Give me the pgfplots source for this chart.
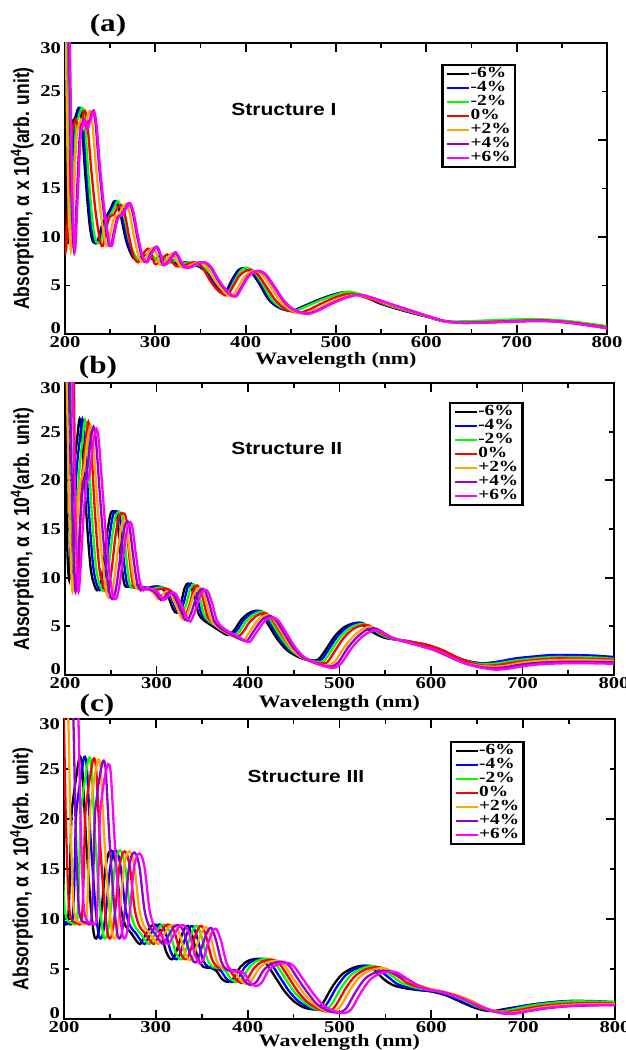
\documentclass[border=0pt]{standalone}
\usepackage{pgfplots}
\pgfplotsset{compat=1.18}
\usepackage{graphicx}
\usepackage{fontspec}
\setmainfont{Liberation Serif}[FakeStretch=1.25]
\setsansfont{Liberation Sans}[FakeStretch=1.2]
\newfontfamily\ylfont{Liberation Sans}
\definecolor{cblue}{RGB}{0,0,255}
\definecolor{cgreen}{RGB}{0,255,0}
\definecolor{cred}{RGB}{255,0,0}
\definecolor{corange}{RGB}{255,165,0}
\definecolor{cpurple}{RGB}{148,0,211}
\definecolor{cmag}{RGB}{255,0,255}
\pgfplotsset{
  myax/.style={
    scale only axis, xmin=200, xmax=800, ymin=0, ymax=30,
    xtick={200,300,...,800}, minor xtick={250,350,...,750},
    ytick={0,10,20,30}, yticklabels={\raisebox{6pt}[\height][\depth]{0},10,20,\raisebox{-5pt}[\height][\depth]{30}},
    extra y ticks={5,15,25},
    extra y tick style={major tick length=5pt},
    tick pos=both, tick align=inside,
    major tick length=9pt, minor tick length=5pt,
    every tick/.style={black, line width=1.8pt},
    axis line style={line width=2.5pt},
    tick label style={font=\fontsize{16.5}{16.5}\selectfont\bfseries},
    /pgf/number format/assume math mode=true,
    xticklabel style={yshift=1pt},
    yticklabel style={xshift=-0.5pt},
    xlabel={Wavelength (nm)},
    xlabel style={font=\fontsize{17.5}{18}\selectfont\bfseries, anchor=center},
    ylabel={\scalebox{1}[1.25]{Absorption, α x 10\textsuperscript{4}(arb. unit)}},
    ylabel style={font=\ylfont\bfseries\fontsize{17.5}{18}\selectfont, anchor=center},
    legend cell align=left,
    legend style={anchor=north west, draw=black, line width=2.4pt, fill=white,
      font=\fontsize{15.5}{14}\selectfont\bfseries, inner xsep=4pt, inner ysep=2pt,
      row sep=0pt, nodes={inner sep=0pt, text height=10.8pt, text depth=3.2pt},
      /tikz/every even column/.append style={column sep=9pt}},
    legend image code/.code={\draw[#1] (0pt,0pt) -- (22pt,0pt);},
    every axis plot/.append style={line width=2.3pt, smooth, tension=0.5, no markers},
  }
}
\begin{document}
\begin{tikzpicture}
\useasboundingbox (0,0) rectangle (625pt,1050pt);
% ---------------- Panel (a) ----------------
\begin{axis}[myax, at={(65pt,716pt)}, anchor=south west, width=542pt, height=291pt,
  xlabel style={at={(axis description cs:0.5,-0.089)}},
  ylabel style={at={(axis description cs:-0.079,0.5)}},
  legend style={at={(0.694,0.928)}}]
\addplot[black] coordinates {(198,40) (200,32) (202,14) (204,9.8) (207,18) (209,21.8) (211,22.2) (215,23.3) (218,22.5) (222,17) (227,11.5) (231,9.5) (236,9.6) (241,11.2) (247,12.3) (251,13.0) (255,13.7) (261,12.5) (268,9.5) (276,7.8) (285,7.9) (292,8.2) (298,7.6) (305,8.0) (312,7.3) (318,7.6) (325,7.2) (333,7.4) (345,7.1) (355,6.5) (365,5.2) (373,4.5) (378,4.4) (385,5.6) (392,6.6) (399,6.8) (406,6.4) (415,5.2) (425,3.6) (435,2.8) (445,2.45) (452,2.4) (465,2.9) (480,3.5) (495,4.0) (508,4.3) (518,4.2) (535,3.7) (550,3.1) (575,2.4) (600,1.8) (620,1.3) (640,1.2) (670,1.3) (700,1.4) (730,1.4) (760,1.2) (800,0.75)};
\addlegendentry{-6\%}
\addplot[cblue] coordinates {(199.5,40) (201.5,32) (203.5,14) (205.5,9.8) (208.5,18) (210.5,21.8) (212.5,22.2) (216.5,23.3) (219.5,22.5) (223.5,17) (228.5,11.5) (232.5,9.5) (237.5,9.6) (242.5,11.2) (248.5,12.3) (252.5,13.0) (256.5,13.7) (262.5,12.5) (269.5,9.5) (277.5,7.8) (286.5,7.9) (293.5,8.2) (299.5,7.6) (306.5,8.0) (313.5,7.3) (319.5,7.6) (326.5,7.2) (334.5,7.4) (346.5,7.1) (356.5,6.5) (366.5,5.2) (374.5,4.5) (379.5,4.4) (386.5,5.6) (393.5,6.6) (400.5,6.8) (407.5,6.4) (416.5,5.2) (426.5,3.6) (436.5,2.8) (446.5,2.45) (453.5,2.4) (466.5,2.9) (481.5,3.5) (496.5,4.0) (509.5,4.3) (519.5,4.2) (536.5,3.7) (551,3.1) (575.5,2.4) (600,1.8) (620,1.3) (640,1.25) (670,1.35) (700,1.45) (730,1.45) (760,1.25) (800,0.75)};
\addlegendentry{-4\%}
\addplot[cgreen] coordinates {(201.5,40) (203.5,32) (205.5,14) (207.5,9.8) (210.5,18) (212.5,21.8) (214.5,22.2) (218.5,23.3) (221.5,22.5) (225.5,17) (230.5,11.5) (234.5,9.5) (239.5,9.6) (244.5,11.2) (250.5,12.3) (254.5,13.0) (258.5,13.7) (264.5,12.5) (271.5,9.5) (279.5,7.8) (288.5,7.9) (295.5,8.2) (301.5,7.6) (308.5,8.0) (315.5,7.3) (321.5,7.6) (328.5,7.2) (336.5,7.4) (348.5,7.1) (358.5,6.5) (368.5,5.2) (376.5,4.5) (381.5,4.4) (388.5,5.6) (395.5,6.6) (402.5,6.8) (409.5,6.4) (418.5,5.2) (428.5,3.6) (438.5,2.8) (448.5,2.45) (455.5,2.4) (468.5,2.9) (483.5,3.5) (498.5,4.0) (511.5,4.35) (521.5,4.25) (538,3.75) (552,3.15) (576,2.45) (600,1.85) (620,1.35) (640,1.3) (670,1.4) (700,1.5) (730,1.5) (760,1.3) (800,0.8)};
\addlegendentry{-2\%}
\addplot[cred] coordinates {(191.5,40) (193.5,32) (195.5,29) (198,15) (201,8.6) (204,14) (207,20) (209,21.3) (212,22.1) (215,21.2) (218,22) (222,23.0) (225,21.5) (229,17) (234,12.5) (239,9.5) (242,9.1) (245,10.5) (249,12.0) (254,12.3) (258,13.0) (262,13.3) (266,12.5) (271,10) (276,8.0) (281,7.4) (286,8.2) (292,8.8) (296,8.1) (300,7.2) (308,7.7) (313,8.2) (318,7.5) (323,7.0) (330,7.0) (338,7.3) (345,7.4) (352,6.9) (360,5.6) (368,4.6) (375,4.1) (380,4.0) (386,4.9) (393,6.0) (400,6.5) (406,6.6) (413,6.2) (422,5.0) (432,3.6) (442,2.7) (452,2.3) (460,2.2) (470,2.5) (485,3.2) (500,3.8) (512,4.1) (520,4.1) (537,3.65) (555,3.1) (577,2.45) (600,1.85) (620,1.3) (640,1.15) (670,1.25) (700,1.35) (730,1.4) (760,1.2) (800,0.7)};
\addlegendentry{0\%}
\addplot[corange] coordinates {(197,40) (199,32) (201,29) (203.5,15) (206.5,8.6) (209.5,14) (212.5,20) (214.5,21.3) (217.5,22.1) (220.5,21.2) (223.5,22) (227.5,23.0) (230.5,21.5) (234.5,17) (239.5,12.5) (244.5,9.5) (247.5,9.1) (250.5,10.5) (254.5,12.0) (259.5,12.3) (263.5,13.0) (267.5,13.4) (271.5,12.5) (276.5,10) (281.5,8.0) (286.5,7.4) (291.5,8.3) (297.5,8.9) (301.5,8.2) (305.5,7.1) (313.5,7.8) (318.5,8.3) (323.5,7.6) (328.5,6.9) (335.5,6.9) (343.5,7.3) (350.5,7.4) (357.5,6.9) (365.5,5.6) (373.5,4.6) (380.5,4.0) (385.5,3.9) (391.5,4.8) (398.5,5.9) (405.5,6.4) (411.5,6.5) (418.5,6.1) (427.5,4.9) (437.5,3.5) (447.5,2.6) (457.5,2.2) (465.5,2.1) (475.5,2.4) (490.5,3.1) (505.5,3.7) (517.5,4.0) (526,4.0) (542,3.6) (558,3.05) (579,2.45) (600,1.85) (620,1.3) (640,1.12) (670,1.18) (700,1.28) (730,1.32) (760,1.12) (800,0.6)};
\addlegendentry{+2\%}
\addplot[cpurple] coordinates {(200.5,40) (202.5,32) (204.5,29) (207,15) (210,8.6) (213,14) (216,20) (218,21.3) (221,22.1) (224,21.2) (227,22) (231,23.0) (234,21.5) (238,17) (243,12.5) (248,9.5) (251,9.1) (254,10.5) (258,12.0) (263,12.3) (267,13.0) (271,13.5) (275,12.5) (280,10) (285,8.0) (290,7.4) (295,8.3) (301,9.0) (305,8.2) (309,7.1) (317,7.8) (322,8.4) (327,7.6) (332,6.9) (339,6.9) (347,7.3) (354,7.4) (361,6.9) (369,5.6) (377,4.6) (384,4.0) (389,3.9) (395,4.8) (402,5.9) (409,6.4) (415,6.5) (422,6.1) (431,4.9) (441,3.5) (451,2.6) (461,2.2) (469,2.1) (479,2.4) (494,3.1) (509,3.7) (521,4.0) (529,4.0) (544,3.6) (560,3.1) (580,2.5) (600,1.9) (620,1.35) (640,1.15) (670,1.2) (700,1.3) (730,1.35) (760,1.15) (800,0.6)};
\addlegendentry{+4\%}
\addplot[cmag] coordinates {(201.5,40) (203.5,32) (205.5,29) (208,15) (211,8.6) (214,14) (217,20) (219,21.3) (222,22.1) (225,21.2) (228,22) (232,23.0) (235,21.5) (239,17) (244,12.5) (249,9.5) (252,9.1) (255,10.5) (259,12.0) (264,12.3) (268,13.0) (272,13.5) (276,12.5) (281,10) (286,8.0) (291,7.4) (296,8.3) (302,9.0) (306,8.2) (310,7.1) (318,7.8) (323,8.4) (328,7.6) (333,6.9) (340,6.9) (348,7.3) (355,7.4) (362,6.9) (370,5.6) (378,4.6) (385,4.0) (390,3.9) (396,4.8) (403,5.9) (410,6.4) (416,6.5) (423,6.1) (432,4.9) (442,3.5) (452,2.6) (462,2.2) (470,2.1) (480,2.4) (495,3.1) (510,3.7) (522,4.0) (530,4.0) (545,3.6) (560,3.1) (580,2.5) (600,1.9) (620,1.35) (640,1.15) (670,1.2) (700,1.3) (730,1.35) (760,1.15) (800,0.6)};
\addlegendentry{+6\%}
\node[font=\sffamily\bfseries\fontsize{17.5}{18}\selectfont] at (rel axis cs:0.404,0.773) {Structure I};
\end{axis}
% ---------------- Panel (b) ----------------
\begin{axis}[myax, at={(65pt,375pt)}, anchor=south west, width=549pt, height=292pt,
  xlabel style={at={(axis description cs:0.5,-0.096)}},
  ylabel style={at={(axis description cs:-0.078,0.5)}},
  legend style={at={(0.699,0.935)}}]
\addplot[black] coordinates {(198,40) (200,32) (202,15) (204.5,9.8) (207,15) (209,20) (211,22.4) (213,24) (216,26.3) (219,24) (223,17) (228,11) (233,9.0) (237,8.8) (241,10.5) (246,14.5) (250,16.6) (254,16.8) (257,16.3) (261,12) (265,9.3) (270,9.1) (278,9.2) (286,8.8) (293,9.0) (300,9.1) (307,8.8) (313,8.0) (318,6.8) (322,6.4) (327,7.5) (331,9.0) (335,9.4) (340,8.5) (346,6.3) (352,5.6) (360,5.1) (368,4.6) (375,4.2) (379,4.1) (385,4.6) (392,5.6) (400,6.3) (408,6.6) (414,6.4) (422,5.2) (432,3.7) (442,2.6) (452,2.0) (462,1.6) (470,1.5) (477,1.6) (485,2.6) (495,4.0) (505,4.9) (515,5.3) (522,5.3) (530,4.8) (540,4.2) (550,3.8) (565,3.6) (580,3.35) (595,3.1) (610,2.6) (625,1.9) (640,1.4) (655,1.2) (670,1.3) (690,1.6) (710,1.8) (730,1.95) (750,1.95) (775,1.9) (800,1.75)};
\addlegendentry{-6\%}
\addplot[cblue] coordinates {(201,40) (203,32) (205,15) (207.5,9.8) (210,15) (212,20) (214,22.4) (216,24) (219,26.3) (222,24) (226,17) (231,11) (236,9.0) (240,8.8) (244,10.5) (249,14.5) (253,16.6) (257,16.8) (260,16.3) (264,12) (268,9.3) (273,9.1) (281,9.2) (289,8.8) (296,9.0) (303,9.1) (310,8.8) (316,8.0) (321,6.8) (325,6.4) (330,7.5) (334,9.0) (338,9.4) (343,8.5) (349,6.3) (355,5.6) (363,5.1) (371,4.6) (378,4.2) (382,4.1) (388,4.6) (395,5.6) (403,6.3) (411,6.6) (417,6.4) (425,5.2) (435,3.7) (445,2.6) (455,2.0) (465,1.6) (473,1.45) (480,1.55) (488,2.6) (498,4.0) (508,4.9) (518,5.35) (525,5.35) (533,4.85) (543,4.2) (553,3.8) (567,3.6) (582,3.35) (597,3.05) (612,2.55) (627,1.85) (642,1.4) (657,1.2) (672,1.35) (692,1.7) (712,1.9) (732,2.05) (752,2.05) (777,2.0) (800,1.85)};
\addlegendentry{-4\%}
\addplot[cgreen] coordinates {(204,40) (206,32) (208,15) (210.5,9.8) (213,15) (215,20) (217,22.4) (219,24) (222,26.2) (225,24) (229,17) (234,11) (239,9.0) (243,8.7) (247,10.5) (252,14.5) (256,16.5) (260,16.7) (263,16.2) (267,12) (271,9.2) (276,9.0) (284,9.1) (292,8.8) (299,8.9) (306,9.0) (313,8.7) (319,7.9) (324,6.7) (328,6.3) (333,7.4) (337,8.9) (341,9.3) (346,8.4) (352,6.2) (358,5.5) (366,5.0) (374,4.5) (381,4.1) (385,4.0) (391,4.5) (398,5.5) (406,6.2) (414,6.5) (420,6.3) (428,5.1) (438,3.6) (448,2.5) (458,1.9) (468,1.5) (476,1.35) (483,1.45) (491,2.5) (501,3.9) (511,4.8) (521,5.2) (528,5.2) (536,4.75) (546,4.15) (556,3.75) (570,3.55) (584,3.3) (598,3.0) (613,2.5) (628,1.8) (643,1.3) (658,1.1) (673,1.2) (693,1.5) (713,1.7) (733,1.85) (753,1.85) (778,1.8) (800,1.65)};
\addlegendentry{-2\%}
\addplot[cred] coordinates {(207.5,40) (209.5,32) (211.5,15) (214,9.8) (216.5,15) (218.5,20) (220.5,22.2) (222.5,23.8) (225.5,26.0) (228.5,23.8) (232.5,17) (237.5,11) (242.5,9.0) (246.5,8.6) (250.5,10.5) (255.5,14.5) (259.5,16.4) (263.5,16.6) (266.5,16.1) (270.5,12) (274.5,9.2) (279.5,9.0) (287.5,9.0) (295.5,8.7) (302.5,8.8) (309.5,8.9) (316.5,8.6) (322.5,7.8) (327.5,6.6) (331.5,6.2) (336.5,7.3) (340.5,8.8) (344.5,9.2) (349.5,8.3) (355.5,6.1) (361.5,5.4) (369.5,4.9) (377.5,4.4) (384.5,4.0) (388.5,3.9) (394.5,4.4) (401.5,5.4) (409.5,6.1) (417.5,6.35) (423.5,6.1) (431.5,5.0) (441.5,3.5) (451.5,2.4) (461.5,1.8) (471.5,1.35) (479.5,1.2) (486.5,1.3) (494.5,2.4) (504.5,3.8) (514.5,4.7) (524.5,5.1) (531.5,5.1) (539.5,4.65) (549.5,4.1) (559.5,3.7) (573,3.5) (587,3.25) (601,2.95) (615,2.45) (630,1.75) (645,1.2) (660,0.95) (675,1.05) (695,1.35) (715,1.55) (735,1.7) (755,1.7) (780,1.65) (800,1.55)};
\addlegendentry{0\%}
\addplot[corange] coordinates {(199.5,40) (201.5,32) (205,16) (208,8.7) (210.5,11) (213.5,16) (216.5,19.7) (219,20.4) (221.5,21.7) (224.5,24.2) (228,25.6) (230.5,24.2) (234.5,19) (238.5,14) (243.5,9.5) (246.5,8.1) (250,8.0) (253.5,9.6) (257.5,12.6) (261.5,15.2) (265,15.9) (267.5,15.2) (271.5,12) (275.5,9.5) (279.5,8.8) (283.5,9.1) (288.5,8.9) (293.5,8.7) (297.5,8.3) (301.5,7.8) (305.5,8.1) (310.5,8.6) (315.5,8.3) (321.5,7.1) (326.5,6.0) (330.5,5.7) (335.5,6.7) (340.5,8.2) (345.5,8.9) (349.5,8.8) (354.5,7.4) (359.5,5.7) (365.5,5.0) (373.5,4.5) (383.5,4.0) (390.5,3.7) (395.5,3.6) (401.5,4.4) (409.5,5.5) (415.5,6.0) (421.5,6.15) (427.5,5.8) (435.5,4.6) (445.5,3.0) (455.5,2.0) (465.5,1.5) (475.5,1.15) (483.5,1.0) (488.5,1.0) (495.5,1.45) (505.5,2.9) (515.5,4.0) (525.5,4.75) (533.5,4.95) (540.5,4.75) (549.5,4.2) (559.5,3.8) (573.5,3.4) (588.5,3.0) (604,2.5) (620,1.85) (636,1.25) (652,0.95) (667,0.85) (682,0.95) (698,1.25) (718,1.45) (743,1.55) (773,1.55) (800,1.45)};
\addlegendentry{+2\%}
\addplot[cpurple] coordinates {(202.8,40) (204.8,32) (208.3,16) (211.3,8.7) (213.8,11) (216.8,16) (219.8,19.6) (222.3,20.3) (224.8,21.6) (227.8,24.1) (231.3,25.5) (233.8,24.1) (237.8,19) (241.8,14) (246.8,9.5) (249.8,8.0) (253.3,7.9) (256.8,9.5) (260.8,12.5) (264.8,15.1) (268.3,15.8) (270.8,15.1) (274.8,12) (278.8,9.5) (282.8,8.7) (286.8,9.0) (291.8,8.8) (296.8,8.6) (300.8,8.2) (304.8,7.7) (308.8,8.0) (313.8,8.5) (318.8,8.2) (324.8,7.0) (329.8,5.9) (333.8,5.6) (338.8,6.6) (343.8,8.1) (348.8,8.8) (352.8,8.7) (357.8,7.3) (362.8,5.6) (368.8,4.9) (376.8,4.4) (386.8,3.9) (393.8,3.6) (398.8,3.5) (404.8,4.3) (412.8,5.4) (418.8,5.9) (424.8,6.05) (430.8,5.6) (438.8,4.4) (448.8,2.9) (458.8,1.9) (468.8,1.4) (478.8,1.05) (486.8,0.88) (491.8,0.88) (498.8,1.3) (508.8,2.75) (518.8,3.85) (528.8,4.6) (536.8,4.8) (543.8,4.6) (552.8,4.05) (562.8,3.65) (576.8,3.3) (592,2.9) (607,2.45) (622,1.8) (637,1.2) (652,0.85) (667,0.7) (682,0.8) (697,1.05) (717,1.25) (742,1.35) (772,1.35) (800,1.3)};
\addlegendentry{+4\%}
\addplot[cmag] coordinates {(206,40) (208,32) (211.5,16) (214.5,8.7) (217,11) (220,16) (223,19.5) (225.5,20.2) (228,21.5) (231,24) (234.5,25.3) (237,24) (241,19) (245,14) (250,9.5) (253,8.0) (256.5,7.9) (260,9.5) (264,12.5) (268,15) (271.5,15.7) (274,15) (278,12) (282,9.5) (286,8.7) (290,9.0) (295,8.8) (300,8.6) (304,8.2) (308,7.7) (312,8.0) (317,8.5) (322,8.2) (328,7.0) (333,5.9) (337,5.5) (342,6.5) (347,8.0) (352,8.7) (356,8.6) (361,7.3) (366,5.6) (372,4.9) (380,4.4) (390,3.9) (397,3.5) (402,3.4) (408,4.2) (416,5.3) (422,5.8) (428,5.9) (434,5.5) (442,4.3) (452,2.8) (462,1.8) (472,1.3) (482,0.95) (490,0.75) (495,0.75) (502,1.2) (512,2.6) (522,3.7) (532,4.4) (540,4.6) (547,4.4) (556,3.9) (566,3.55) (580,3.2) (595,2.8) (610,2.4) (625,1.7) (640,1.1) (655,0.75) (670,0.55) (685,0.65) (700,0.9) (720,1.1) (745,1.2) (775,1.2) (800,1.15)};
\addlegendentry{+6\%}
\node[font=\sffamily\bfseries\fontsize{17.5}{18}\selectfont] at (rel axis cs:0.404,0.777) {Structure II};
\end{axis}
% ---------------- Panel (c) ----------------
\begin{axis}[myax, at={(64pt,31pt)}, anchor=south west, width=551pt, height=300pt,
  xlabel style={at={(axis description cs:0.5,-0.077)}},
  ylabel style={at={(axis description cs:-0.077,0.5)}},
  legend style={at={(0.70,0.927)}}]
\addplot[black] coordinates {(181,33) (184.5,30.5) (187,20) (190,12) (193,10) (199,9.6) (204,9.7) (206,13) (208,20) (210,22) (213,24) (217,26.2) (220,25) (224,18) (229,11.5) (233,8.3) (237,8.4) (241,11) (245,15) (249,16.7) (253,16.7) (257,15) (262,11) (267,9.3) (273,8.6) (279,7.8) (283,7.5) (288,8.3) (295,9.3) (301,9.4) (306,8.5) (311,6.8) (316,6.0) (320,6.2) (326,7.8) (331,9.0) (335,9.3) (340,8.2) (346,6.0) (352,5.2) (360,5.1) (366,4.8) (372,4.0) (378,3.7) (384,4.0) (392,5.2) (400,5.8) (408,6.0) (414,6.0) (420,5.6) (430,4.2) (440,2.8) (450,1.8) (460,1.2) (468,1.0) (475,1.0) (482,1.6) (492,3.2) (502,4.4) (512,5.0) (522,5.3) (530,5.3) (538,4.9) (548,4.0) (558,3.4) (570,3.1) (585,2.9) (600,2.75) (615,2.4) (630,1.8) (645,1.2) (658,0.85) (668,0.8) (680,1.0) (700,1.3) (720,1.55) (745,1.75) (770,1.75) (800,1.65)};
\addlegendentry{-6\%}
\addplot[cblue] coordinates {(186,33) (189.5,30.5) (192,20) (195,12) (198,10) (204,9.6) (209,9.7) (211,13) (213,20) (215,22) (218,24) (222,26.2) (225,25) (229,18) (234,11.5) (238,8.3) (242,8.4) (246,11) (250,15) (254,16.7) (258,16.7) (262,15) (267,11) (272,9.3) (278,8.6) (284,7.8) (288,7.5) (293,8.3) (300,9.3) (306,9.4) (311,8.5) (316,6.8) (321,6.0) (325,6.2) (331,7.8) (336,9.0) (340,9.3) (345,8.2) (351,6.0) (357,5.2) (365,5.1) (371,4.8) (377,4.0) (383,3.7) (389,4.0) (397,5.2) (405,5.8) (413,6.0) (419,6.0) (425,5.6) (435,4.2) (445,2.8) (455,1.8) (465,1.2) (473,0.95) (480,0.95) (487,1.6) (497,3.2) (507,4.4) (517,5.0) (527,5.3) (535,5.3) (543,4.9) (553,4.2) (563,3.5) (575,3.15) (589,2.9) (603,2.75) (618,2.4) (633,1.8) (648,1.2) (662,0.85) (672,0.8) (684,1.0) (703,1.35) (723,1.6) (747,1.8) (772,1.8) (800,1.7)};
\addlegendentry{-4\%}
\addplot[cgreen] coordinates {(191,33) (194.5,30.5) (197,20) (200,12) (203,10) (209,9.6) (214,9.7) (216,13) (218,20) (220,22) (223,24) (227,26.1) (230,25) (234,18) (239,11.5) (243,8.3) (247,8.4) (251,11) (255,15) (259,16.7) (263,16.7) (267,15) (272,11) (277,9.3) (283,8.6) (289,7.8) (293,7.5) (298,8.3) (305,9.3) (311,9.4) (316,8.5) (321,6.8) (326,6.0) (330,6.2) (336,7.8) (341,9.0) (345,9.3) (350,8.2) (356,6.0) (362,5.2) (370,5.1) (376,4.8) (382,4.0) (388,3.7) (394,4.0) (402,5.2) (410,5.8) (418,6.0) (424,6.0) (430,5.6) (440,4.2) (450,2.8) (460,1.8) (470,1.15) (478,0.9) (485,0.9) (492,1.55) (502,3.15) (512,4.35) (522,4.95) (532,5.25) (540,5.25) (548,4.85) (558,4.25) (568,3.6) (580,3.2) (593,2.95) (606,2.8) (620,2.45) (636,1.85) (651,1.2) (666,0.8) (676,0.75) (688,0.95) (706,1.3) (726,1.55) (750,1.75) (775,1.75) (800,1.68)};
\addlegendentry{-2\%}
\addplot[cred] coordinates {(196,33) (199.5,30.5) (202,20) (205,12) (208,10) (214,9.6) (219,9.7) (221,13) (223,20) (225,22) (228,24) (232,26.0) (235,25) (239,18) (244,11.5) (248,8.3) (252,8.4) (256,11) (260,15) (264,16.6) (268,16.6) (272,15) (277,11) (282,9.3) (288,8.6) (294,7.8) (298,7.5) (303,8.3) (310,9.3) (316,9.4) (321,8.5) (326,6.8) (331,6.0) (335,6.2) (341,7.8) (346,9.0) (350,9.3) (355,8.2) (361,6.0) (367,5.2) (375,5.1) (381,4.8) (387,4.0) (393,3.6) (399,3.9) (407,5.1) (415,5.7) (423,5.9) (429,5.9) (435,5.5) (445,4.1) (455,2.7) (465,1.7) (475,1.1) (483,0.8) (490,0.8) (497,1.5) (507,3.1) (517,4.3) (527,4.9) (537,5.15) (545,5.15) (553,4.8) (563,4.3) (573,3.65) (584,3.25) (596,3.0) (609,2.8) (623,2.45) (639,1.85) (654,1.15) (670,0.75) (681,0.7) (693,0.85) (710,1.15) (730,1.4) (755,1.55) (778,1.6) (800,1.55)};
\addlegendentry{0\%}
\addplot[corange] coordinates {(201,33) (204.5,30.5) (207,20) (210,12) (213,10) (219,9.6) (224,9.7) (226,13) (228,20) (230,22) (233,24) (237,25.9) (240,24.9) (244,18) (249,11.5) (253,8.3) (257,8.4) (261,11) (265,15) (269,16.6) (273,16.6) (277,15) (282,11) (287,9.3) (293,8.6) (299,7.8) (303,7.5) (308,8.3) (315,9.3) (321,9.3) (326,8.5) (331,6.8) (336,5.9) (340,6.1) (346,7.7) (351,8.9) (355,9.2) (360,8.1) (366,5.9) (372,5.1) (380,5.0) (386,4.7) (392,3.9) (398,3.5) (404,3.8) (412,5.0) (420,5.6) (428,5.8) (434,5.8) (440,5.4) (450,4.0) (460,2.7) (470,1.7) (480,1.0) (488,0.75) (495,0.75) (502,1.4) (512,3.0) (522,4.2) (532,4.8) (542,5.05) (550,5.05) (558,4.75) (568,4.35) (578,3.7) (589,3.3) (600,3.0) (612,2.75) (626,2.45) (642,1.9) (657,1.2) (673,0.7) (685,0.62) (697,0.75) (714,1.05) (734,1.3) (758,1.45) (780,1.5) (800,1.48)};
\addlegendentry{+2\%}
\addplot[cpurple] coordinates {(206.5,33) (210,30.5) (212.5,20) (215.5,12) (218.5,10) (224.5,9.6) (229.5,9.7) (231.5,13) (233.5,20) (235.5,22) (238.5,24) (242.5,25.8) (245.5,24.8) (249.5,18) (254.5,11.5) (258.5,8.3) (262.5,8.4) (266.5,11) (270.5,15) (274.5,16.5) (278.5,16.5) (282.5,15) (287.5,11) (292.5,9.3) (298.5,8.6) (304.5,7.8) (308.5,7.5) (313.5,8.3) (320.5,9.3) (326.5,9.3) (331.5,8.4) (336.5,6.7) (341.5,5.7) (345.5,5.9) (351.5,7.6) (356.5,8.8) (360.5,9.1) (365.5,7.9) (371.5,5.7) (377.5,4.9) (385.5,4.9) (391.5,4.6) (397.5,3.7) (403.5,3.4) (409.5,3.7) (417.5,4.9) (425.5,5.5) (433.5,5.7) (439.5,5.7) (445.5,5.3) (455.5,3.9) (465.5,2.6) (475.5,1.5) (485.5,0.9) (493.5,0.68) (500.5,0.65) (507.5,1.1) (517.5,2.7) (527.5,4.0) (537.5,4.6) (547.5,4.8) (555.5,4.75) (563.5,4.35) (574.5,3.95) (586.5,3.3) (599.5,2.9) (614,2.65) (630,2.2) (645,1.6) (660,1.0) (675,0.6) (687,0.55) (700,0.7) (720,1.0) (745,1.25) (772,1.35) (800,1.38)};
\addlegendentry{+4\%}
\addplot[cmag] coordinates {(212,33) (215.5,30.5) (218,20) (221,12) (224,10) (230,9.6) (235,9.7) (237,13) (239,20) (241,22) (244,24) (248,25.5) (251,24.5) (255,18) (260,11.5) (264,8.3) (268,8.4) (272,11) (276,15) (280,16.4) (284,16.4) (288,15) (293,11) (298,9.3) (304,8.6) (310,7.8) (314,7.5) (319,8.3) (326,9.3) (332,9.3) (337,8.4) (342,6.6) (347,5.6) (351,5.8) (357,7.6) (362,8.8) (366,9.0) (371,7.8) (377,5.6) (383,4.8) (391,4.8) (397,4.5) (403,3.6) (409,3.3) (415,3.6) (423,4.9) (431,5.4) (439,5.6) (445,5.6) (451,5.2) (461,3.9) (471,2.6) (481,1.5) (491,0.9) (499,0.65) (506,0.6) (513,1.0) (523,2.6) (533,3.9) (543,4.5) (553,4.7) (561,4.7) (569,4.3) (580,3.6) (592,3.0) (605,2.8) (620,2.45) (635,2.0) (650,1.4) (665,0.85) (680,0.55) (692,0.55) (705,0.8) (725,1.1) (750,1.3) (775,1.4) (800,1.4)};
\addlegendentry{+6\%}
\node[font=\sffamily\bfseries\fontsize{17.5}{18}\selectfont] at (rel axis cs:0.439,0.81) {Structure III};
\end{axis}
\node[font=\fontsize{25}{25}\selectfont\bfseries] at (108pt,1025pt) {(a)};
\node[font=\fontsize{25}{25}\selectfont\bfseries] at (98pt,683pt) {(b)};
\node[font=\fontsize{25}{25}\selectfont\bfseries] at (97pt,345pt) {(c)};
\end{tikzpicture}
\end{document}
